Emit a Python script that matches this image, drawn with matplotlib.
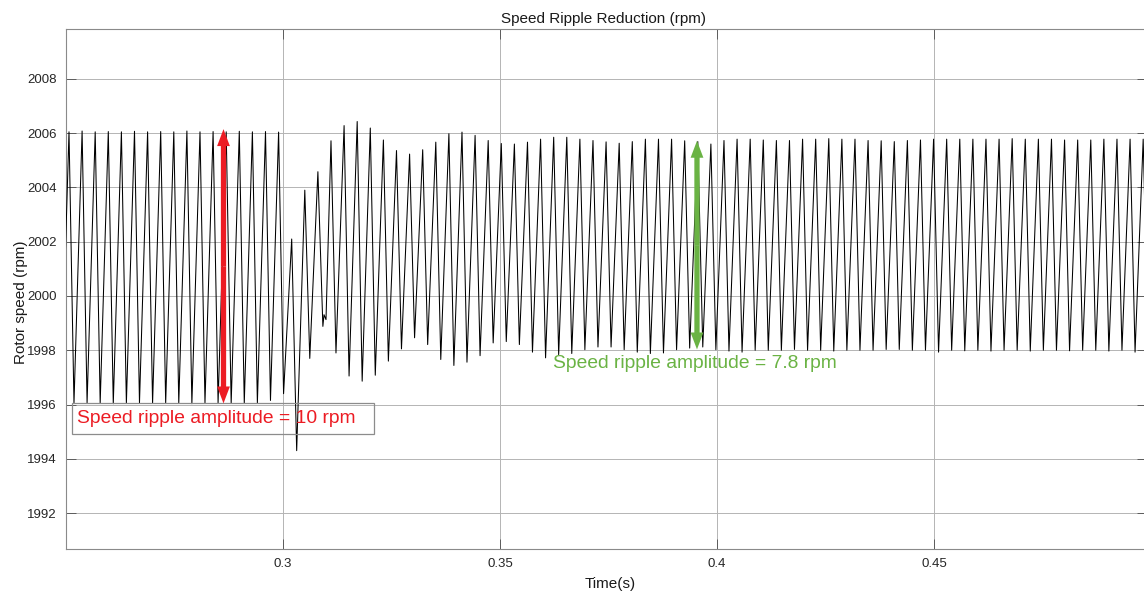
import numpy as np
import matplotlib
matplotlib.use("Agg")
import matplotlib.pyplot as plt
from matplotlib.patches import Rectangle, FancyArrowPatch

plt.rcParams['font.family'] = ['Liberation Sans', 'DejaVu Sans']

# ---------------- data ----------------
first_peak_time = 0.250691      # s, first ripple peak
ripple_period = 0.0030184       # s, period of the speed ripple
trough_phase = 0.38             # trough position inside a period (fraction)

peak_values = [
    2006.05, 2006.08, 2006.05, 2006.06, 2006.05, 2006.07, 2006.05, 2006.06, 2006.05,
    2006.08, 2006.05, 2006.06, 2006.05, 2006.07, 2006.05, 2006.06, 2006.04,
    2002.10, 2003.90, 2004.58, 2005.72, 2006.28, 2006.43, 2006.19, 2005.75, 2005.36,
    2005.23, 2005.39, 2005.67, 2005.98, 2006.04, 2005.92, 2005.73, 2005.62,
    2005.60, 2005.67, 2005.78, 2005.85, 2005.85, 2005.78, 2005.73, 2005.68, 2005.63,
    2005.69, 2005.78, 2005.78, 2005.78, 2005.72, 2005.69, 2005.60,
    2005.73, 2005.78, 2005.78, 2005.75, 2005.73, 2005.73, 2005.78, 2005.78, 2005.80,
    2005.78, 2005.78, 2005.73, 2005.72, 2005.69, 2005.73, 2005.75, 2005.78, 2005.78,
    2005.78, 2005.78, 2005.78, 2005.78, 2005.80, 2005.78, 2005.78, 2005.78, 2005.75,
    2005.75, 2005.75, 2005.78, 2005.78, 2005.78, 2005.78,
]

# trough j lies between peak j-1 and peak j
trough_values = [
    1996.05,
    1996.04, 1996.06, 1996.05, 1996.03, 1996.05, 1996.06, 1996.04, 1996.05,
    1996.05, 1996.03, 1996.06, 1996.05, 1996.04, 1996.05, 1996.06, 1996.15,
    1996.40, 1994.30, 1997.70, 1998.88, 1997.90, 1997.05, 1996.86, 1997.08, 1997.60,
    1998.05, 1998.46, 1998.21, 1997.66, 1997.44, 1997.56, 1997.80, 1998.27,
    1998.32, 1998.21, 1997.93, 1997.72, 1997.84, 1997.88, 1998.02, 1998.12, 1998.12,
    1998.02, 1997.93, 1997.88, 1997.90, 1998.02, 1998.08, 1998.12,
    1998.02, 1997.97, 1997.93, 1998.00, 1998.00, 1998.00, 1998.03, 1998.00, 1998.00,
    1997.97, 1998.00, 1998.00, 1998.00, 1998.03, 1998.03, 1998.00, 1998.00, 1997.93,
    1998.00, 1997.98, 1998.00, 1997.97, 1998.00, 1998.00, 1997.97, 1998.00, 1998.00,
    1997.98, 1998.00, 1998.00, 1997.97, 1998.00, 1997.93, 1998.00,
]

# small double dip in the transient just after the step
detail_times = [0.30945, 0.30991]
detail_values = [1999.31, 1999.13]

red_label = "Speed ripple amplitude = 10 rpm"
green_label = "Speed ripple amplitude = 7.8 rpm"
red_arrow = (0.28629, 1996.04, 2006.15)     # time, low, high
green_arrow = (0.39539, 1998.03, 2005.72)

y_ticks = [1992, 1994, 1996, 1998, 2000, 2002, 2004, 2006, 2008]
x_ticks = [0.3, 0.35, 0.4, 0.45]
x_tick_labels = ["0.3", "0.35", "0.4", "0.45"]

# ---------------- build the line ----------------
assert len(trough_values) == len(peak_values) + 1
k = np.arange(len(peak_values))
peak_times = first_peak_time + k * ripple_period
j = np.arange(len(trough_values))
trough_times = first_peak_time + (j - 1 + trough_phase) * ripple_period

t = np.concatenate([peak_times, trough_times, detail_times])
v = np.concatenate([peak_values, trough_values, detail_values])
order = np.argsort(t)
t, v = t[order], v[order]

# ---------------- figure ----------------
W, H, DPI = 1144, 598, 100
fig = plt.figure(figsize=(W / DPI, H / DPI), dpi=DPI)
ax = fig.add_axes([66 / W, (H - 549) / H, (1147 - 66) / W, (549 - 29) / H])

ax.plot(t, v, color='black', lw=0.75, zorder=3)

ax.set_xlim(0.25, 0.49908)
ax.set_ylim(1990.675, 2009.84)
ax.set_xticks(x_ticks)
ax.set_xticklabels(x_tick_labels)
ax.set_yticks(y_ticks)

ax.grid(True, color='#b4b4b4', lw=0.7, zorder=0)
ax.tick_params(direction='in', length=7.5, width=0.6, color='#4d4d4d',
               top=True, right=True, labelsize=9.5, labelcolor='#262626', pad=6.5)
for s in ax.spines.values():
    s.set_color('#8a8a8a')
    s.set_linewidth(0.8)

ax.set_title('Speed Ripple Reduction (rpm)', fontsize=11, color='#1a1a1a', pad=4, x=0.497)
ax.set_xlabel('Time(s)', fontsize=11, color='#1a1a1a')
ax.xaxis.set_label_coords(0.503, -0.067)
ax.xaxis.label.set_va('center')
ax.set_ylabel('Rotor speed (rpm)', fontsize=11, color='#1a1a1a')
ax.yaxis.set_label_coords(-0.042, 0.475)
ax.yaxis.label.set_va('center')

# ---------------- annotations ----------------
def double_arrow(x, lo, hi, color):
    mid = 0.5 * (lo + hi)
    style = 'simple,head_length=12.2,head_width=9.2,tail_width=3.8'
    for end in (lo, hi):
        a = FancyArrowPatch((x, mid), (x, end), arrowstyle=style, mutation_scale=1,
                            shrinkA=0, shrinkB=0, color=color, lw=0, zorder=5)
        ax.add_patch(a)

double_arrow(*red_arrow, '#ec1c24')
double_arrow(*green_arrow, '#6ab344')

box = Rectangle((0.251382, 1994.93), 0.320968 - 0.251382, 1996.04 - 1994.93,
                facecolor='none', edgecolor='#8c8c8c', lw=0.9, zorder=4)
ax.add_patch(box)
ax.text(0.252535, 1995.475, red_label, color='#ec1c24', fontsize=13.9,
        ha='left', va='center', zorder=6)
ax.text(0.36222, 1997.51, green_label, color='#6ab344', fontsize=13.9,
        ha='left', va='center', zorder=6)

fig.savefig('out.png', dpi=DPI)
